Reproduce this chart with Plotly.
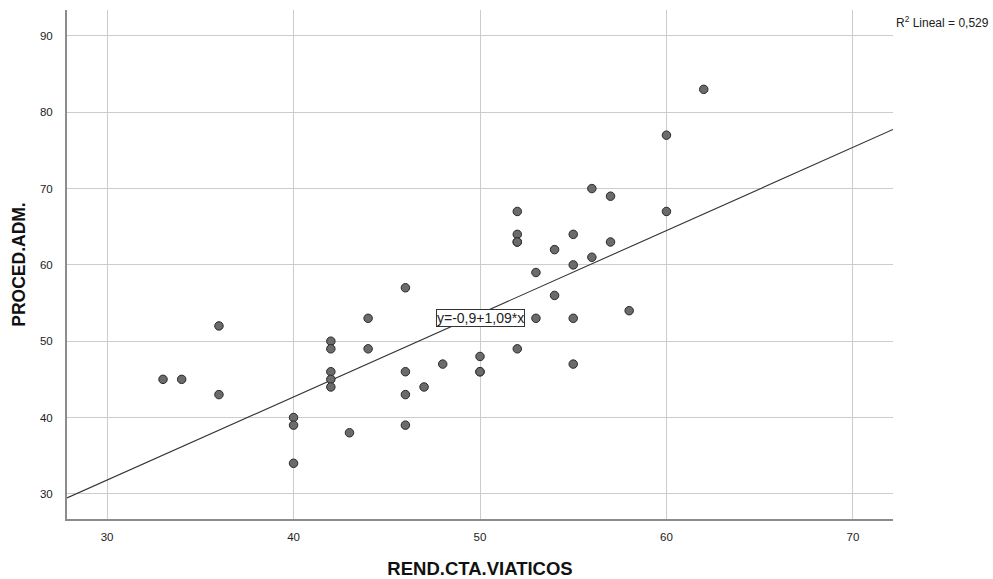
import plotly.graph_objects as go

rend_cta_viaticos = [33, 34, 36, 36, 40, 40, 40, 42, 42, 42, 42, 42, 43, 44, 44,
                     46, 46, 46, 46, 47, 48, 50, 50, 50, 52, 52, 52, 52, 52,
                     53, 53, 54, 54, 55, 55, 55, 55, 56, 56, 57, 57, 58, 60, 60, 62]
proced_adm = [45, 45, 52, 43, 40, 39, 34, 50, 49, 46, 45, 44, 38, 53, 49,
              57, 46, 43, 39, 44, 47, 48, 46, 46, 67, 64, 63, 63, 49,
              59, 53, 62, 56, 64, 60, 53, 47, 70, 61, 69, 63, 54, 77, 67, 83]

intercept = -0.9
slope = 1.09
r2_label = "R<sup>2</sup> Lineal = 0,529"
eq_label = "y=-0,9+1,09*x"

x_range = [27.85, 72.15]
y_range = [26.7, 93.4]
x_ticks = [30, 40, 50, 60, 70]
y_ticks = [30, 40, 50, 60, 70, 80, 90]

font_family = "Liberation Sans, Arial, sans-serif"

fig = go.Figure()
fig.add_trace(go.Scatter(
    x=[x_range[0], x_range[1]],
    y=[intercept + slope * x_range[0], intercept + slope * x_range[1]],
    mode="lines", line=dict(color="#333333", width=1.1),
    hoverinfo="skip", showlegend=False))
fig.add_trace(go.Scatter(
    x=rend_cta_viaticos, y=proced_adm, mode="markers",
    marker=dict(size=8.5, color="#6b6b6b", line=dict(color="#2a2a2a", width=1)),
    showlegend=False))

fig.add_annotation(x=50, y=intercept + slope * 50 - 0.6, xref="x", yref="y",
                   text=eq_label, showarrow=False,
                   font=dict(family=font_family, size=14, color="#222222"),
                   bgcolor="white", bordercolor="#333333", borderwidth=1,
                   borderpad=0)
fig.add_annotation(x=1.0, y=1.0, xref="paper", yref="paper",
                   xanchor="left", yanchor="top", xshift=1, yshift=-2,
                   text=r2_label, showarrow=False,
                   font=dict(family=font_family, size=12, color="#222222"))

tick_font = dict(family=font_family, size=11.5, color="#222222")

fig.update_layout(
    width=993, height=579,
    margin=dict(l=67, r=100, t=10, b=60),
    plot_bgcolor="white", paper_bgcolor="white",
    font=dict(family=font_family, size=11, color="#222222"),
    xaxis=dict(range=x_range, tickvals=x_ticks, showgrid=True,
               gridcolor="#cccccc", gridwidth=1, zeroline=False,
               showline=True, linecolor="#8c8c8c", linewidth=2,
               ticks="", ticklabelstandoff=6, tickfont=tick_font,
               automargin=False,
               title=dict(text="<b>REND.CTA.VIATICOS</b>",
                          font=dict(family=font_family, size=18.5, color="#111111"),
                          standoff=20)),
    yaxis=dict(range=y_range, tickvals=y_ticks, showgrid=True,
               gridcolor="#cccccc", gridwidth=1, zeroline=False,
               showline=True, linecolor="#8c8c8c", linewidth=2,
               ticks="", ticklabelstandoff=10, tickfont=tick_font,
               automargin=False,
               title=dict(text="<b>PROCED.ADM.</b>",
                          font=dict(family=font_family, size=17.5, color="#111111"),
                          standoff=10)),
)

fig.write_html("out.html")
